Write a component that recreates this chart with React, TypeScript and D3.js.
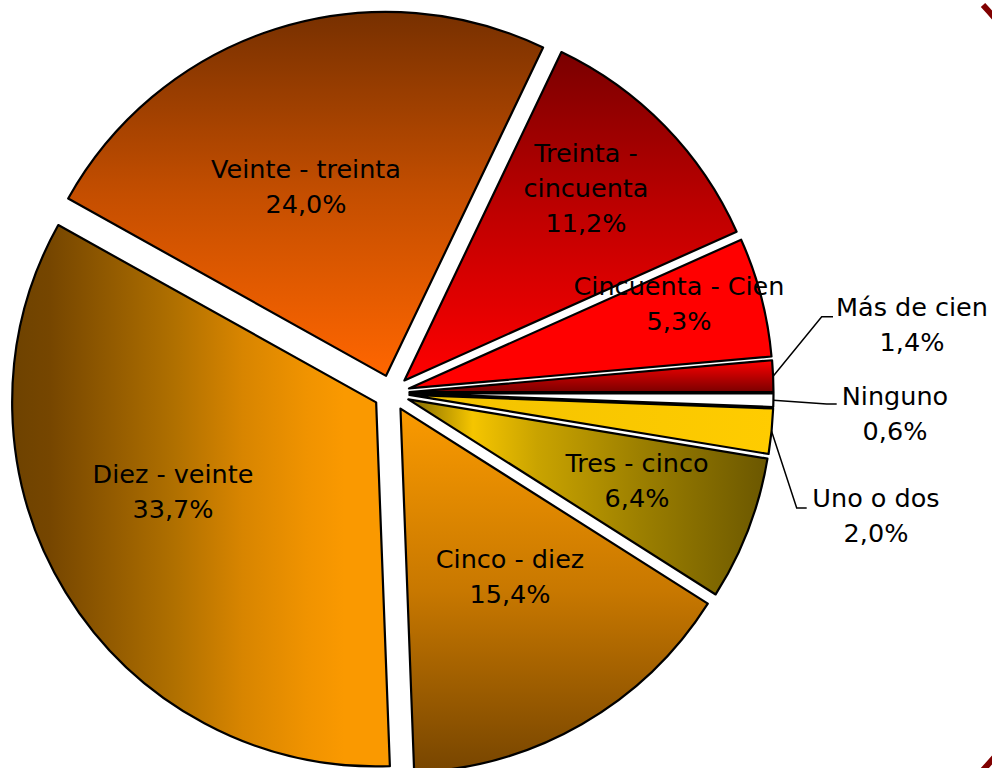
import React from 'react'
import * as d3 from 'd3'

// Datos del gráfico (porcentaje de casos por rango)
const categories = [
  'Ninguno',
  'Uno o dos',
  'Tres - cinco',
  'Cinco - diez',
  'Diez - veinte',
  'Veinte - treinta',
  'Treinta - cincuenta',
  'Cincuenta - Cien',
  'Más de cien',
]
const shares = [0.6, 2.0, 6.4, 15.4, 33.7, 24.0, 11.2, 5.3, 1.4]

// Dimensiones
const width = 992
const height = 768
const cx = 391.5
const cy = 393
const radius = 364
const explode = 18
const fontSize = 25.5
const lineHeight = 35

// Relleno de cada sector: dirección del degradado y paradas
const fills: Record<string, { dir: 'h' | 'v'; stops: [number, string][] }> = {
  'Ninguno': { dir: 'v', stops: [[0, '#ffffff'], [1, '#ffffff']] },
  'Uno o dos': { dir: 'h', stops: [[0, '#f2c200'], [1, '#ffcc00']] },
  'Tres - cinco': { dir: 'h', stops: [[0, '#7e6600'], [0.18, '#f5c500'], [0.36, '#c9a300'], [0.64, '#9d8000'], [1, '#6b5700']] },
  'Cinco - diez': { dir: 'v', stops: [[0, '#fa9a00'], [0.5, '#c87800'], [1, '#774500']] },
  'Diez - veinte': { dir: 'h', stops: [[0, '#6e4200'], [0.1, '#764600'], [0.43, '#b07000'], [0.61, '#d88500'], [0.78, '#f09300'], [0.88, '#fa9900'], [1, '#fa9900']] },
  'Veinte - treinta': { dir: 'v', stops: [[0, '#773000'], [0.5, '#c44e00'], [1, '#ff6600']] },
  'Treinta - cincuenta': { dir: 'v', stops: [[0, '#7a0000'], [0.5, '#c00000'], [1, '#ff0000']] },
  'Cincuenta - Cien': { dir: 'v', stops: [[0, '#ff0000'], [1, '#ff0000']] },
  'Más de cien': { dir: 'v', stops: [[0, '#ff0000'], [1, '#7a0000']] },
}

// Posición de las etiquetas (centro x, línea base de la primera línea)
const labelLayout: Record<string, { x: number; y: number; elbow?: [number, number]; end?: [number, number] }> = {
  'Ninguno': { x: 895, y: 405, elbow: [826.7, 404], end: [836.7, 404] },
  'Uno o dos': { x: 876, y: 507, elbow: [796.7, 508], end: [806.7, 508] },
  'Tres - cinco': { x: 637, y: 472 },
  'Cinco - diez': { x: 510, y: 568 },
  'Diez - veinte': { x: 173, y: 483 },
  'Veinte - treinta': { x: 306, y: 178 },
  'Treinta - cincuenta': { x: 586, y: 162 },
  'Cincuenta - Cien': { x: 679, y: 295 },
  'Más de cien': { x: 912, y: 316, elbow: [821.7, 316.7], end: [833, 316.7] },
}

const fmt = (v: number) => v.toFixed(1).replace('.', ',') + '%'
const splitName = (c: string) => (c === 'Treinta - cincuenta' ? ['Treinta -', 'cincuenta'] : [c])

const App = () => {
  const ref = React.useRef<SVGSVGElement | null>(null)

  React.useEffect(() => {
    const data = categories.map((c, i) => ({ name: c, value: shares[i] }))
    const svg = d3.select(ref.current)
    svg.selectAll('*').remove()

    svg.append('rect').attr('width', width).attr('height', height).attr('fill', '#ffffff')

    // Degradados
    const defs = svg.append('defs')
    categories.forEach((c, i) => {
      const f = fills[c]
      const g = defs
        .append('linearGradient')
        .attr('id', `grad-${i}`)
        .attr('x1', 0)
        .attr('y1', 0)
        .attr('x2', f.dir === 'h' ? 1 : 0)
        .attr('y2', f.dir === 'v' ? 1 : 0)
      f.stops.forEach(([o, col]) => g.append('stop').attr('offset', o).attr('stop-color', col))
    })

    const pie = d3
      .pie<{ name: string; value: number }>()
      .sort(null)
      .value((d) => d.value)
      .startAngle(Math.PI / 2)
      .endAngle(Math.PI / 2 + 2 * Math.PI)

    const arc = d3.arc<d3.PieArcDatum<{ name: string; value: number }>>().innerRadius(0).outerRadius(radius)
    const arcs = pie(data)

    const offset = (a: number, r: number): [number, number] => [Math.sin(a) * r, -Math.cos(a) * r]

    // Sectores separados
    const g = svg.append('g').attr('transform', `translate(${cx},${cy})`)
    g.selectAll('path.slice')
      .data(arcs)
      .enter()
      .append('path')
      .attr('class', 'slice')
      .attr('transform', (d) => {
        const m = (d.startAngle + d.endAngle) / 2
        const [dx, dy] = offset(m, explode)
        return `translate(${dx},${dy})`
      })
      .attr('d', (d) => arc(d) || '')
      .attr('fill', (d, i) => `url(#grad-${i})`)
      .attr('stroke', '#000')
      .attr('stroke-width', 2.2)
      .attr('stroke-linejoin', 'round')

    // Líneas guía para etiquetas exteriores
    arcs.forEach((d) => {
      const l = labelLayout[d.data.name]
      if (!l.elbow || !l.end) return
      const m = (d.startAngle + d.endAngle) / 2
      const [ex, ey] = offset(m, explode)
      const [px, py] = offset(m, radius)
      const line = d3.line()
      svg
        .append('path')
        .attr('d', line([[cx + ex + px, cy + ey + py], l.elbow, l.end]) || '')
        .attr('fill', 'none')
        .attr('stroke', '#000')
        .attr('stroke-width', 1.5)
    })

    // Etiquetas
    arcs.forEach((d) => {
      const l = labelLayout[d.data.name]
      const lines = [...splitName(d.data.name), fmt(d.data.value)]
      const t = svg
        .append('text')
        .attr('text-anchor', 'middle')
        .attr('font-family', '"DejaVu Sans", Verdana, sans-serif')
        .attr('font-size', fontSize)
        .attr('fill', '#000')
      lines.forEach((s, k) => {
        t.append('tspan').attr('x', l.x).attr('y', l.y + k * lineHeight).text(s)
      })
    })

    // Arco decorativo del marco (borde derecho, casi fuera de la imagen)
    svg
      .append('path')
      .attr('d', 'M 983 5 A 561 561 0 0 1 983 770')
      .attr('fill', 'none')
      .attr('stroke', '#800000')
      .attr('stroke-width', 6)
  }, [])

  return (
    <svg
      ref={ref}
      width={width}
      height={height}
      style={{ position: 'absolute', left: 0, top: 0, display: 'block' }}
    ></svg>
  )
}

export default App
